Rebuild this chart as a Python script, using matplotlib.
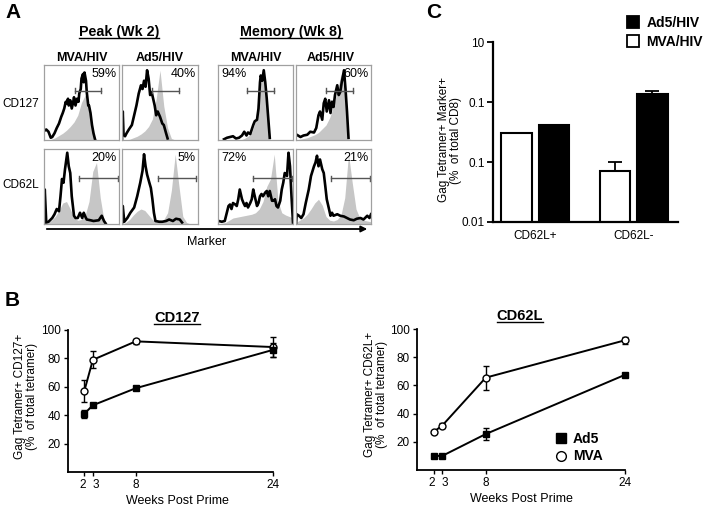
import numpy as np
import matplotlib
matplotlib.use('Agg')
import matplotlib.pyplot as plt
from matplotlib.lines import Line2D
from matplotlib.patches import Patch, FancyArrowPatch
from matplotlib.transforms import ScaledTranslation

plt.rcParams['font.family'] = ['Liberation Sans', 'DejaVu Sans']

W, H = 703, 508

# ---- panel A: histograms (x and heights normalised to the box) ----
grid = np.linspace(0, 1, 21)

mva_pk_127_x = [0.00,0.03,0.06,0.09,0.11,0.14,0.17,0.20,0.23,0.25,0.27,0.29,0.30,0.32,0.33,0.35,0.37,0.39,0.40,0.42,0.44,0.46,0.47,0.49,0.50,0.52,0.53,0.54,0.56,0.57,0.59,0.60,0.62,0.64,0.66,0.68]
mva_pk_127_y = [0.12,0.14,0.11,0.03,0.04,0.09,0.16,0.22,0.31,0.36,0.42,0.51,0.49,0.55,0.46,0.53,0.42,0.51,0.57,0.46,0.55,0.51,0.62,0.68,0.82,0.88,0.77,0.90,0.79,0.64,0.46,0.46,0.36,0.20,0.09,0.01]
ad5_pk_127_x = [0.00,0.01,0.02,0.04,0.06,0.09,0.13,0.16,0.19,0.22,0.25,0.27,0.29,0.31,0.33,0.35,0.37,0.39,0.41,0.43,0.45,0.47,0.50,0.53,0.55,0.58,0.60]
ad5_pk_127_y = [0.00,0.38,0.08,0.05,0.09,0.14,0.20,0.33,0.46,0.62,0.73,0.68,0.79,0.71,0.93,0.82,0.60,0.64,0.55,0.46,0.33,0.38,0.31,0.22,0.20,0.09,0.02]
mva_mem_127_x = [0.08,0.12,0.16,0.20,0.24,0.28,0.32,0.35,0.38,0.40,0.43,0.45,0.47,0.49,0.52,0.54,0.56,0.57,0.59,0.61,0.63,0.65,0.67,0.69]
mva_mem_127_y = [0.01,0.03,0.04,0.05,0.02,0.03,0.06,0.11,0.06,0.10,0.08,0.14,0.20,0.25,0.27,0.42,0.77,0.86,0.79,0.93,0.77,0.55,0.29,0.03]
ad5_mem_127_x = [0.01,0.06,0.10,0.15,0.19,0.24,0.27,0.30,0.32,0.35,0.37,0.39,0.41,0.44,0.46,0.48,0.50,0.52,0.55,0.57,0.59,0.61,0.64,0.66,0.68,0.70]
ad5_mem_127_y = [0.07,0.04,0.06,0.07,0.11,0.10,0.16,0.33,0.38,0.27,0.49,0.55,0.38,0.53,0.36,0.51,0.44,0.60,0.73,0.60,0.64,0.77,0.93,0.68,0.38,0.03]
mva_pk_62_x = [0.00,0.01,0.03,0.06,0.11,0.14,0.17,0.20,0.22,0.24,0.26,0.28,0.31,0.33,0.35,0.37,0.40,0.42,0.45,0.48,0.51,0.53,0.55,0.57,0.62,0.66,0.73,0.77,0.80,0.82]
mva_pk_62_y = [0.00,0.46,0.02,0.03,0.08,0.13,0.20,0.17,0.37,0.60,0.55,0.73,0.95,0.77,0.68,0.37,0.11,0.08,0.08,0.15,0.08,0.15,0.10,0.06,0.05,0.04,0.05,0.11,0.04,0.01]
ad5_pk_62_x = [0.00,0.01,0.03,0.07,0.11,0.16,0.20,0.24,0.27,0.29,0.31,0.33,0.36,0.38,0.40,0.42,0.44,0.49,0.53,0.58,0.62,0.67,0.71,0.76,0.79]
ad5_pk_62_y = [0.00,0.24,0.03,0.08,0.15,0.22,0.37,0.55,0.71,0.93,0.77,0.66,0.55,0.48,0.33,0.15,0.04,0.03,0.03,0.04,0.06,0.04,0.07,0.06,0.02]
mva_mem_62_x = [0.01,0.05,0.09,0.14,0.16,0.18,0.20,0.23,0.25,0.27,0.29,0.32,0.34,0.36,0.38,0.40,0.43,0.45,0.47,0.49,0.52,0.54,0.56,0.58,0.60,0.63,0.65,0.67,0.69,0.72,0.74,0.76,0.78,0.80,0.83,0.85,0.87,0.89,0.92,0.94,0.96,0.98,1.00]
mva_mem_62_y = [0.04,0.03,0.04,0.24,0.26,0.20,0.28,0.26,0.24,0.33,0.46,0.33,0.28,0.24,0.28,0.22,0.28,0.33,0.46,0.37,0.24,0.28,0.37,0.40,0.37,0.42,0.44,0.37,0.44,0.31,0.31,0.33,0.24,0.22,0.31,0.46,0.55,0.68,0.64,0.95,0.77,0.37,0.02]
ad5_mem_62_x = [0.00,0.01,0.04,0.07,0.10,0.13,0.17,0.20,0.24,0.26,0.28,0.30,0.32,0.35,0.37,0.39,0.41,0.44,0.46,0.48,0.50,0.55,0.59,0.64,0.68,0.72,0.77,0.81,0.86,0.90,0.95,0.98,1.00]
ad5_mem_62_y = [0.00,0.13,0.11,0.08,0.13,0.28,0.46,0.64,0.77,0.82,0.91,0.77,0.86,0.73,0.68,0.51,0.33,0.20,0.11,0.15,0.11,0.13,0.11,0.10,0.08,0.06,0.05,0.07,0.08,0.06,0.11,0.08,0.13]

# grey control histograms on the 21-point grid
ctrl_pk_127a = [0,0,0.01,0.03,0.06,0.09,0.13,0.18,0.24,0.33,0.50,0.60,0.38,0.08,0,0,0,0,0,0,0]
ctrl_pk_127b = [0,0,0.01,0.03,0.05,0.08,0.12,0.18,0.28,0.55,0.93,0.45,0.16,0.02,0,0,0,0,0,0,0]
ctrl_mem_127a = [0,0,0,0,0,0,0,0.02,0.05,0.10,0.25,0.70,0.85,0.38,0,0,0,0,0,0,0]
ctrl_mem_127b = [0,0.01,0.02,0.03,0.05,0.07,0.10,0.15,0.20,0.30,0.45,0.65,0.88,0.60,0.02,0,0,0,0,0,0]
ctrl_pk_62a = [0,0.02,0.05,0.10,0.18,0.28,0.30,0.20,0.08,0.05,0.06,0.12,0.30,0.70,0.82,0.35,0.05,0,0,0,0]
ctrl_pk_62b = [0,0.02,0.06,0.12,0.17,0.20,0.18,0.12,0.06,0.03,0.03,0.06,0.15,0.45,0.93,0.50,0.10,0.02,0,0,0]
ctrl_mem_62a = [0,0.01,0.02,0.05,0.08,0.09,0.10,0.11,0.12,0.13,0.15,0.20,0.30,0.50,0.60,0.93,0.30,0.15,0.12,0.10,0.08]
ctrl_mem_62b = [0.02,0.05,0.08,0.13,0.20,0.28,0.33,0.25,0.10,0.05,0.04,0.06,0.12,0.35,0.93,0.55,0.20,0.08,0.05,0.04,0.03]

gate_lo = [0.41, 0.39, 0.39, 0.40, 0.47, 0.47, 0.46, 0.47]
gate_hi = [0.76, 0.75, 0.75, 0.76, 0.99, 0.98, 0.99, 0.99]
gate_y = [0.66, 0.66, 0.66, 0.66, 0.61, 0.61, 0.61, 0.61]
pct_labels = ['59%', '40%', '94%', '60%', '20%', '5%', '72%', '21%']

col_labels = ['MVA/HIV', 'Ad5/HIV', 'MVA/HIV', 'Ad5/HIV']
row_labels = ['CD127', 'CD62L']

# ---- panel B ----
weeks = [2, 3, 8, 24]
cd127_ad5 = [41, 47, 59, 86]
cd127_ad5_err = [3, 1.5, 1.5, 5]
cd127_mva = [57, 79, 92, 88]
cd127_mva_err = [8, 6, 2, 7]
cd62l_ad5 = [10, 10, 25.5, 67.5]
cd62l_ad5_err = [1, 1, 4.5, 1]
cd62l_mva = [27, 31.5, 65.5, 92]
cd62l_mva_err = [1, 1.5, 8.5, 2.5]

# ---- panel C ----
c_groups = ['CD62L+', 'CD62L-']
c_mva = [0.30, 0.071]
c_mva_err = [0, 0.029]
c_ad5 = [0.41, 1.36]
c_ad5_err = [0, 0.18]
c_ticks = [0.01, 0.1, 1, 10]
c_ticklabels = ['0.01', '0.1', '0.1', '10']


def rect(x0, y0, x1, y1):
    return [x0 / W, 1 - y1 / H, (x1 - x0) / W, (y1 - y0) / H]


def ftext(x, y, s, **kw):
    return fig.text(x / W, 1 - y / H, s, **kw)


fig = plt.figure(figsize=(W / 100, H / 100), dpi=100)

# ---------------- A ----------------
black_x = [mva_pk_127_x, ad5_pk_127_x, mva_mem_127_x, ad5_mem_127_x,
           mva_pk_62_x, ad5_pk_62_x, mva_mem_62_x, ad5_mem_62_x]
black_y = [mva_pk_127_y, ad5_pk_127_y, mva_mem_127_y, ad5_mem_127_y,
           mva_pk_62_y, ad5_pk_62_y, mva_mem_62_y, ad5_mem_62_y]
ctrl = [ctrl_pk_127a, ctrl_pk_127b, ctrl_mem_127a, ctrl_mem_127b,
        ctrl_pk_62a, ctrl_pk_62b, ctrl_mem_62a, ctrl_mem_62b]

cols = [(44, 119), (122, 198), (218, 293), (296, 371)]
rows = [(65, 140), (149, 224)]
left_pct = [2, 6]

for i in range(8):
    r, c = divmod(i, 4)
    ax = fig.add_axes(rect(cols[c][0], rows[r][0], cols[c][1], rows[r][1]))
    ax.fill_between(grid, ctrl[i], color='#c6c6c6', lw=0)
    ax.plot(black_x[i], black_y[i], color='black', lw=1.9, solid_joinstyle='round')
    ax.plot([gate_lo[i], gate_hi[i]], [gate_y[i], gate_y[i]], color='#555555', lw=1)
    for gx in (gate_lo[i], gate_hi[i]):
        ax.plot([gx, gx], [gate_y[i] - 0.03, gate_y[i] + 0.03], color='#555555', lw=1)
    if i in left_pct:
        ax.text(0.04, 0.84, pct_labels[i], ha='left', va='baseline', fontsize=9, transform=ax.transAxes)
    else:
        ax.text(0.97, 0.84, pct_labels[i], ha='right', va='baseline', fontsize=9, transform=ax.transAxes)
    ax.set_xlim(0, 1)
    ax.set_ylim(0, 1)
    ax.set_xticks([])
    ax.set_yticks([])
    for s in ax.spines.values():
        s.set_color('#a0a0a0')
        s.set_linewidth(0.9)

ftext(13, 13, 'A', fontsize=15, fontweight='bold', ha='center', va='center')
t_peak = ftext(119, 36, 'Peak (Wk 2)', fontsize=10.3, fontweight='bold', ha='center', va='baseline')
t_mem = ftext(291, 36, 'Memory (Wk 8)', fontsize=10.3, fontweight='bold', ha='center', va='baseline')
for cx, lab in zip([82, 160, 256, 331], col_labels):
    ftext(cx, 61, lab, fontsize=9, fontweight='bold', ha='center', va='baseline')
ftext(2, 107, row_labels[0], fontsize=8.5, ha='left', va='baseline')
ftext(2, 188, row_labels[1], fontsize=8.5, ha='left', va='baseline')
fig.add_artist(FancyArrowPatch((44 / W, 1 - 229 / H), (370 / W, 1 - 229 / H),
                               transform=fig.transFigure, arrowstyle='-|>',
                               mutation_scale=9, lw=1.3, color='black'))
ftext(207, 245, 'Marker', fontsize=9, ha='center', va='baseline')

# ---------------- B ----------------
ftext(12, 300, 'B', fontsize=15, fontweight='bold', ha='center', va='center')

axl = fig.add_axes(rect(68, 330, 273, 472))
axr = fig.add_axes(rect(417, 329, 625, 470))
for ax, ad5, ad5e, mva, mvae in [(axl, cd127_ad5, cd127_ad5_err, cd127_mva, cd127_mva_err),
                                  (axr, cd62l_ad5, cd62l_ad5_err, cd62l_mva, cd62l_mva_err)]:
    ax.errorbar(weeks, mva, yerr=mvae, color='black', lw=1.4, marker='o', ms=5,
                mfc='white', mec='black', mew=1, capsize=2.5, elinewidth=1, clip_on=False, zorder=3)
    ax.errorbar(weeks, ad5, yerr=ad5e, color='black', lw=1.4, marker='s', ms=5,
                mfc='black', mec='black', capsize=2.5, elinewidth=1, clip_on=False, zorder=4)
    ax.set_xlim(0.1, 24)
    ax.set_ylim(0, 100)
    ax.set_xticks(weeks)
    ax.set_yticks([20, 40, 60, 80, 100])
    ax.tick_params(labelsize=8.5, length=3, width=1, pad=2)
    ax.spines['top'].set_visible(False)
    ax.spines['right'].set_visible(False)
    for s in ('left', 'bottom'):
        ax.spines[s].set_linewidth(1.3)
    # spread the crowded "2" and "3" labels a little, as in the original
    labs = ax.get_xticklabels()
    labs[0].set_transform(labs[0].get_transform() + ScaledTranslation(-1.5 / 100, 0, fig.dpi_scale_trans))
    labs[1].set_transform(labs[1].get_transform() + ScaledTranslation(2.5 / 100, 0, fig.dpi_scale_trans))

t_b1 = ftext(177, 322, 'CD127', fontsize=10.5, fontweight='bold', ha='center', va='baseline')
t_b2 = ftext(520, 320, 'CD62L', fontsize=10.5, fontweight='bold', ha='center', va='baseline')
ftext(177, 504, 'Weeks Post Prime', fontsize=9, ha='center', va='baseline')
ftext(521, 502, 'Weeks Post Prime', fontsize=9, ha='center', va='baseline')
ftext(26, 396, 'Gag Tetramer+ CD127+\n(%  of total tetramer)', fontsize=8.5,
      rotation=90, ha='center', va='center', multialignment='center', linespacing=1.1)
ftext(376, 394, 'Gag Tetramer+ CD62L+\n(%  of total tetramer)', fontsize=8.5,
      rotation=90, ha='center', va='center', multialignment='center', linespacing=1.1)

axr.legend(handles=[Line2D([], [], marker='s', ls='', color='black', ms=7),
                    Line2D([], [], marker='o', ls='', mfc='white', mec='black', ms=7)],
           labels=['Ad5', 'MVA'], loc='upper left', bbox_to_anchor=(548 / W, 1 - 425 / H),
           bbox_transform=fig.transFigure, frameon=False, handlelength=0.8,
           handletextpad=0.5, labelspacing=0.25, borderpad=0,
           prop={'weight': 'bold', 'size': 10})

# ---------------- C ----------------
ftext(434, 13, 'C', fontsize=15, fontweight='bold', ha='center', va='center')
axc = fig.add_axes(rect(493, 42, 678, 222))
xc = np.arange(len(c_groups))
bw = 0.31
off = 0.19
axc.bar(xc - off, c_mva, bw, color='white', edgecolor='black', lw=1.5,
        yerr=[np.zeros(2), c_mva_err], capsize=5, error_kw={'elinewidth': 1.3, 'capthick': 1.3})
axc.bar(xc + off, c_ad5, bw, color='black', edgecolor='black', lw=1.5,
        yerr=[np.zeros(2), c_ad5_err], capsize=5, error_kw={'elinewidth': 1.3, 'capthick': 1.3})
axc.set_yscale('log')
axc.set_ylim(0.01, 10)
axc.set_xlim(-0.43, 1.45)
axc.set_yticks(c_ticks)
axc.set_yticklabels(c_ticklabels)
axc.minorticks_off()
axc.set_xticks(xc)
axc.set_xticklabels(c_groups)
axc.tick_params(axis='y', labelsize=8.5, length=4, width=1.3, pad=2)
axc.tick_params(axis='x', labelsize=8.5, length=0, pad=6)
axc.spines['top'].set_visible(False)
axc.spines['right'].set_visible(False)
for s in ('left', 'bottom'):
    axc.spines[s].set_linewidth(1.6)
ftext(450, 140, 'Gag Tetramer+ Marker+\n(%  of total CD8)', fontsize=8.5,
      rotation=90, ha='center', va='center', multialignment='center', linespacing=1.1)
fig.legend(handles=[Patch(fc='black', ec='black', lw=1.3), Patch(fc='white', ec='black', lw=1.3)],
           labels=['Ad5/HIV', 'MVA/HIV'], loc='upper left', bbox_to_anchor=(620 / W, 1 - 9 / H),
           frameon=False, handlelength=0.9, handleheight=0.9, handletextpad=0.5,
           labelspacing=0.35, borderpad=0, prop={'weight': 'bold', 'size': 10})

# underlines for bold headings
fig.canvas.draw()
rend = fig.canvas.get_renderer()
for t, y in [(t_peak, 38), (t_mem, 38), (t_b1, 324), (t_b2, 322)]:
    bb = t.get_window_extent(rend)
    fig.add_artist(Line2D([bb.x0 / W, bb.x1 / W], [1 - y / H, 1 - y / H],
                          transform=fig.transFigure, color='black', lw=1))

fig.savefig('out.png', dpi=100)
